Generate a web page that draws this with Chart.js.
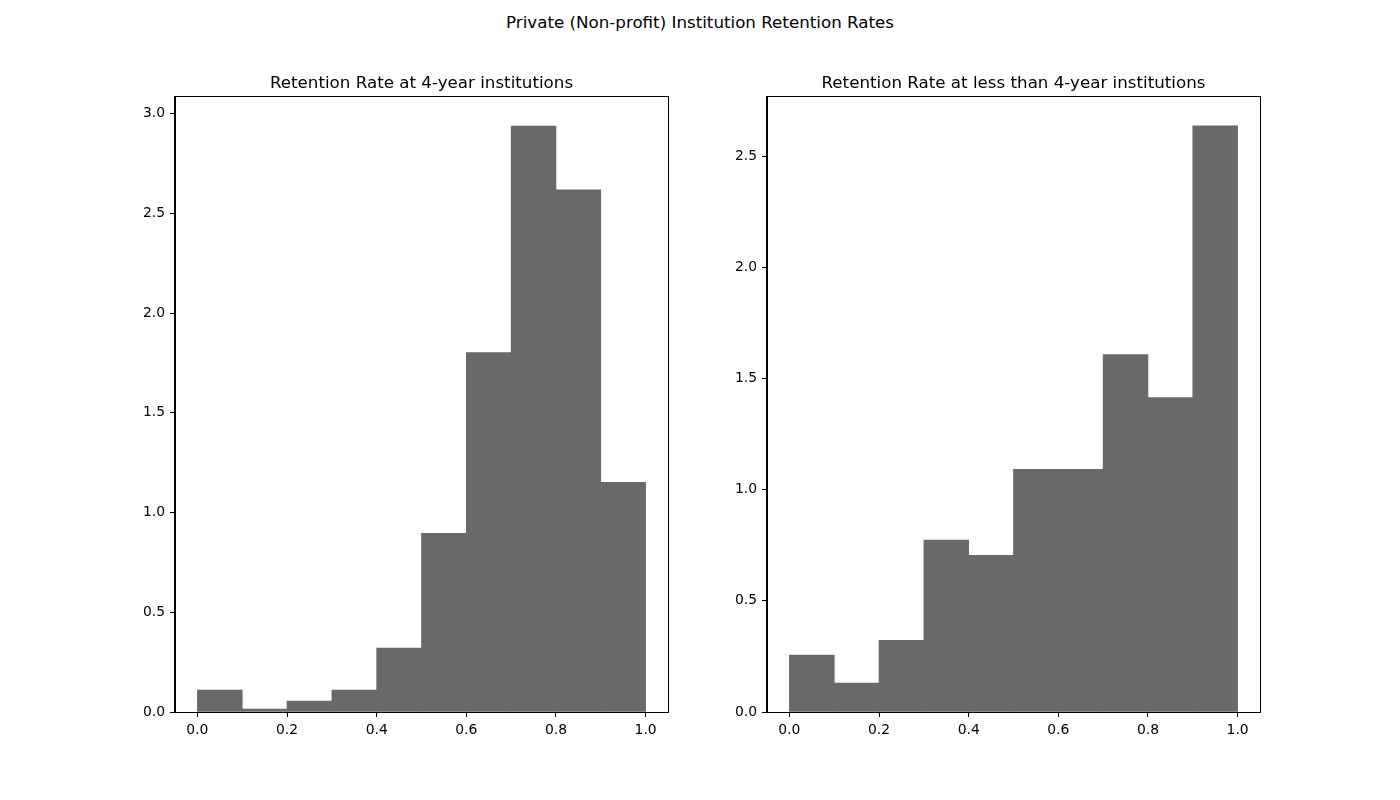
<!DOCTYPE html>
<html>
<head>
<meta charset="utf-8">
<script src="https://cdn.jsdelivr.net/npm/chart.js@4"></script>
<style>
  body { margin: 0; background: #fff; width: 1400px; height: 800px; position: relative; overflow: hidden; }
  #suptitle { position: absolute; left: 0; width: 1400px; top: 12px; text-align: center;
              font: 16.7px "DejaVu Sans", sans-serif; line-height: 20px; color: #000; }
  canvas { position: absolute; }
</style>
</head>
<body>
<div id="suptitle">Private (Non-profit) Institution Retention Rates</div>
<canvas id="canvas1" width="638" height="720" style="left:80px; top:50px;"></canvas>
<canvas id="canvas2" width="592" height="720" style="left:718px; top:50px;"></canvas>
<script>
// bin centres of the 10 histogram bins (width 0.1)
const binCentres = [0.05, 0.15, 0.25, 0.35, 0.45, 0.55, 0.65, 0.75, 0.85, 0.95];

// density values
const fourYear = [0.110, 0.015, 0.055, 0.110, 0.320, 0.896, 1.802, 2.938, 2.618, 1.151];
const lessThanFourYear = [0.256, 0.130, 0.323, 0.773, 0.705, 1.092, 1.092, 1.608, 1.415, 2.637];

const xTicks = [0.0, 0.2, 0.4, 0.6, 0.8, 1.0];
const yTicksLeft = [0.0, 0.5, 1.0, 1.5, 2.0, 2.5, 3.0];
const yTicksRight = [0.0, 0.5, 1.0, 1.5, 2.0, 2.5];

const FONT = "'DejaVu Sans', sans-serif";

// box round the plot area, like the matplotlib spines
const frame = {
  id: 'frame',
  afterDraw(chart) {
    const a = chart.chartArea;
    const ctx = chart.ctx;
    ctx.save();
    ctx.strokeStyle = '#000';
    ctx.lineWidth = 1;
    ctx.strokeRect(Math.round(a.left) - 0.5, Math.round(a.top) - 0.5,
                   Math.round(a.right - a.left) + 1, Math.round(a.bottom - a.top) + 1);
    ctx.restore();
  }
};

function makeHist(canvas, values, title, yMax, yTicks, yWidth, rightPad) {
  return new Chart(canvas, {
    type: 'bar',
    data: {
      datasets: [{
        data: binCentres.map((c, i) => ({ x: c, y: values[i] })),
        backgroundColor: '#696969',
        borderWidth: 0,
        barPercentage: 1.0,
        categoryPercentage: 1.0
      }]
    },
    options: {
      responsive: false,
      animation: false,
      layout: { padding: { left: 0, right: rightPad, top: 0, bottom: 0 } },
      plugins: {
        legend: { display: false },
        tooltip: { enabled: false },
        title: {
          display: true,
          text: title,
          fullSize: false,
          color: '#000',
          font: { family: FONT, size: 16.7, weight: 'normal', lineHeight: 1.2 },
          padding: { top: 24, bottom: 3 }
        }
      },
      scales: {
        x: {
          type: 'linear',
          min: -0.05,
          max: 1.05,
          offset: false,
          afterBuildTicks: (axis) => { axis.ticks = xTicks.map(v => ({ value: v })); },
          afterFit: (axis) => { axis.height = 58; },
          grid: { drawOnChartArea: false, drawTicks: true, tickLength: 5, color: '#000', offset: false },
          border: { display: true, color: '#000' },
          ticks: {
            color: '#000',
            padding: 5,
            maxRotation: 0,
            font: { family: FONT, size: 13.9 },
            callback: (v) => v.toFixed(1)
          }
        },
        y: {
          type: 'linear',
          min: 0,
          max: yMax,
          afterBuildTicks: (axis) => { axis.ticks = yTicks.map(v => ({ value: v })); },
          afterFit: (axis) => { axis.width = yWidth; },
          grid: { drawOnChartArea: false, drawTicks: true, tickLength: 5, color: '#000' },
          border: { display: true, color: '#000' },
          ticks: {
            color: '#000',
            padding: 5,
            font: { family: FONT, size: 13.9 },
            callback: (v) => v.toFixed(1)
          }
        }
      }
    },
    plugins: [frame]
  });
}

let chart1 = makeHist(document.getElementById('canvas1'), fourYear,
  'Retention Rate at 4-year institutions', 3.083, yTicksLeft, 95, 50);
let chart2 = makeHist(document.getElementById('canvas2'), lessThanFourYear,
  'Retention Rate at less than 4-year institutions', 2.767, yTicksRight, 49, 50);
</script>
</body>
</html>
